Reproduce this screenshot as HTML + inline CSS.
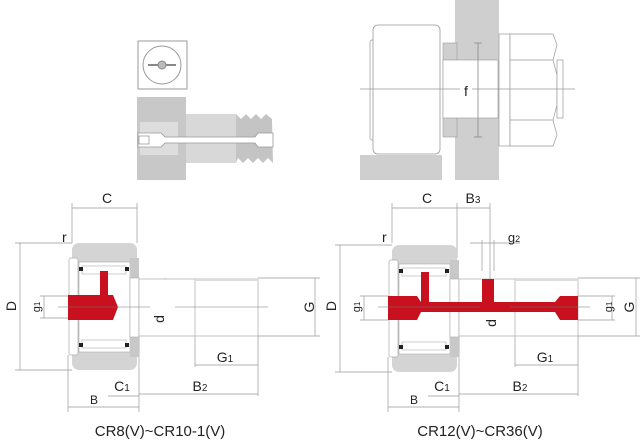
<!DOCTYPE html>
<html><head><style>body{margin:0;background:#fff}svg{display:block}text{font-family:"Liberation Sans",sans-serif;fill:#222}</style></head>
<body>
<svg width="640" height="440" viewBox="0 0 640 440">
<!-- Top-left detail -->
<rect x="138" y="41" width="49" height="48" fill="#fff" stroke="#999"/>
<circle cx="162" cy="65" r="19" fill="#fff" stroke="#999"/>
<line x1="148" y1="65" x2="176" y2="65" stroke="#888" stroke-width="2"/>
<circle cx="162" cy="65" r="4" fill="#bbb" stroke="#888"/>
<rect x="137" y="97" width="49" height="83" fill="#c8c8c8"/>
<rect x="140" y="122" width="38" height="33" fill="#ddd"/>
<rect x="186" y="114" width="50" height="49" fill="#d8d8d8"/>
<path d="M236 114 L241 119 L246 114 L251 119 L256 114 L261 119 L266 114 L272 119 L273 163 L268 158 L263 163 L258 158 L253 163 L248 158 L243 163 L238 158 L236 163 Z" fill="#c4c4c4"/>
<path d="M138 133 H161 L165 137 H255 L258 133 H273 V147 H258 L255 143 H165 L161 147 H138 Z" fill="#fff" stroke="#999" stroke-width="0.8"/>
<rect x="139" y="136" width="10" height="8" fill="none" stroke="#999" stroke-width="0.8"/>
<!-- Top-right assembly -->
<rect x="455" y="0" width="44" height="180" fill="#cfcfcf"/>
<rect x="443" y="43" width="14" height="94" fill="#cfcfcf" stroke="#999" stroke-width="0.6"/>
<rect x="443" y="60" width="55" height="58" fill="#fff" stroke="#999" stroke-width="0.6"/>
<rect x="360" y="155" width="82" height="25" fill="#cfcfcf"/>
<rect x="370" y="40" width="6" height="100" rx="2" fill="#fff" stroke="#999" stroke-width="0.7"/>
<rect x="373" y="25" width="67" height="129" rx="5" fill="#fff" stroke="#999" stroke-width="0.8"/>
<rect x="499" y="34" width="11" height="112" fill="#fff" stroke="#999" stroke-width="0.7"/>
<path d="M510 34 H553 L557 45 L553 60 L557 75 V105 L553 120 L557 135 L553 146 H510 Z" fill="#fff" stroke="#999" stroke-width="0.7"/>
<line x1="510" y1="60" x2="553" y2="60" stroke="#999" stroke-width="0.7"/>
<line x1="510" y1="120" x2="553" y2="120" stroke="#999" stroke-width="0.7"/>
<rect x="557" y="60" width="6" height="58" fill="#fff" stroke="#999" stroke-width="0.7"/>
<line x1="360" y1="89" x2="575" y2="89" stroke="#999" stroke-width="0.7"/>
<line x1="478" y1="43" x2="478" y2="137" stroke="#888" stroke-width="0.8"/>
<line x1="474" y1="43" x2="482" y2="43" stroke="#888" stroke-width="0.8"/>
<line x1="474" y1="137" x2="482" y2="137" stroke="#888" stroke-width="0.8"/>
<rect x="460" y="82" width="12" height="14" fill="#fff"/>
<text x="466" y="96" font-size="14" text-anchor="middle">f</text>

<!-- Bottom-left -->
<g stroke="#999" stroke-width="0.7" fill="none">
<line x1="72" y1="203" x2="72" y2="243"/><line x1="137" y1="203" x2="137" y2="243"/>
<line x1="72" y1="208" x2="137" y2="208"/>
<line x1="15" y1="243" x2="72" y2="243"/><line x1="15" y1="370" x2="72" y2="370"/>
<line x1="20" y1="243" x2="20" y2="370"/>
<line x1="40" y1="296" x2="68" y2="296"/><line x1="40" y1="318" x2="68" y2="318"/>
<line x1="44" y1="296" x2="44" y2="318"/>
<line x1="139" y1="336" x2="139" y2="412"/><line x1="68" y1="355" x2="68" y2="412"/>
<line x1="68" y1="407" x2="139" y2="407"/>
<line x1="139" y1="394" x2="258" y2="394"/><line x1="108" y1="396" x2="139" y2="396"/>
<line x1="258" y1="336" x2="258" y2="396"/><line x1="195" y1="336" x2="195" y2="367"/>
<line x1="195" y1="365" x2="258" y2="365"/>
<line x1="258" y1="278" x2="320" y2="278"/><line x1="258" y1="336" x2="320" y2="336"/>
<line x1="315" y1="278" x2="315" y2="336"/>
<line x1="165" y1="278" x2="165" y2="336"/>
</g>
<rect x="72" y="243" width="65" height="127" rx="7" fill="#d4d4d4"/>
<rect x="79" y="262" width="51" height="90" fill="#fff" stroke="#aaa" stroke-width="0.6"/>
<rect x="69" y="258" width="9" height="97" rx="2" fill="#fff" stroke="#aaa" stroke-width="0.7"/>
<rect x="130" y="258" width="9" height="20" fill="#c8c8c8"/><rect x="130" y="337" width="9" height="20" fill="#c8c8c8"/>
<rect x="130" y="278" width="9" height="59" fill="#fff" stroke="#aaa" stroke-width="0.6"/>
<rect x="82" y="266" width="44" height="8" fill="#fff" stroke="#aaa" stroke-width="0.6"/>
<rect x="82" y="340" width="44" height="8" fill="#fff" stroke="#aaa" stroke-width="0.6"/>
<rect x="79" y="267" width="4" height="4" fill="#222"/><rect x="125" y="267" width="4" height="4" fill="#222"/>
<rect x="79" y="343" width="4" height="4" fill="#222"/><rect x="125" y="343" width="4" height="4" fill="#222"/>
<rect x="139" y="279" width="119" height="57" fill="#fff" stroke="#aaa" stroke-width="0.7"/>
<line x1="195" y1="279" x2="195" y2="336" stroke="#aaa" stroke-width="0.7"/>
<rect x="195" y="279" width="63" height="2" fill="#ddd"/>
<path d="M68 295 H100 V271 H108 V295 H113 L118 307 L113 320 H68 Z" fill="#c8101e"/>
<line x1="58" y1="307" x2="150" y2="307" stroke="#777" stroke-width="0.6"/>
<line x1="175" y1="307" x2="268" y2="307" stroke="#777" stroke-width="0.6"/>
<!-- Bottom-right -->
<g stroke="#999" stroke-width="0.7" fill="none">
<line x1="392" y1="203" x2="392" y2="243"/><line x1="457" y1="203" x2="457" y2="258"/>
<line x1="392" y1="208" x2="490" y2="208"/><line x1="490" y1="203" x2="490" y2="279"/>
<line x1="335" y1="245" x2="392" y2="245"/><line x1="335" y1="372" x2="392" y2="372"/>
<line x1="340" y1="245" x2="340" y2="372"/>
<line x1="360" y1="296" x2="388" y2="296"/><line x1="360" y1="320" x2="388" y2="320"/>
<line x1="364" y1="296" x2="364" y2="320"/>
<line x1="459" y1="336" x2="459" y2="412"/><line x1="388" y1="357" x2="388" y2="412"/>
<line x1="388" y1="407" x2="459" y2="407"/>
<line x1="459" y1="394" x2="578" y2="394"/><line x1="428" y1="396" x2="459" y2="396"/>
<line x1="578" y1="336" x2="578" y2="396"/><line x1="515" y1="336" x2="515" y2="367"/>
<line x1="515" y1="365" x2="578" y2="365"/>
<line x1="578" y1="278" x2="640" y2="278"/><line x1="578" y1="336" x2="640" y2="336"/>
<line x1="636" y1="278" x2="636" y2="336"/>
<line x1="502" y1="279" x2="502" y2="336"/>
<line x1="470" y1="243" x2="520" y2="243"/>
<line x1="482" y1="240" x2="482" y2="271"/><line x1="494" y1="240" x2="494" y2="271"/>
<line x1="578" y1="296" x2="615" y2="296"/><line x1="578" y1="320" x2="615" y2="320"/>
<line x1="612" y1="296" x2="612" y2="320"/>
</g>
<rect x="392" y="245" width="65" height="127" rx="7" fill="#d4d4d4"/>
<rect x="399" y="264" width="51" height="90" fill="#fff" stroke="#aaa" stroke-width="0.6"/>
<rect x="389" y="260" width="9" height="97" rx="2" fill="#fff" stroke="#aaa" stroke-width="0.7"/>
<rect x="450" y="260" width="9" height="19" fill="#c8c8c8"/><rect x="450" y="337" width="9" height="20" fill="#c8c8c8"/>
<rect x="450" y="279" width="9" height="58" fill="#fff" stroke="#aaa" stroke-width="0.6"/>
<rect x="402" y="268" width="44" height="8" fill="#fff" stroke="#aaa" stroke-width="0.6"/>
<rect x="402" y="342" width="44" height="8" fill="#fff" stroke="#aaa" stroke-width="0.6"/>
<rect x="399" y="269" width="4" height="4" fill="#222"/><rect x="445" y="269" width="4" height="4" fill="#222"/>
<rect x="399" y="345" width="4" height="4" fill="#222"/><rect x="445" y="345" width="4" height="4" fill="#222"/>
<rect x="459" y="279" width="119" height="57" fill="#fff" stroke="#aaa" stroke-width="0.7"/>
<line x1="515" y1="279" x2="515" y2="336" stroke="#aaa" stroke-width="0.7"/>
<rect x="515" y="279" width="63" height="2" fill="#ddd"/>
<path d="M388 296 H417 L421 302 V272 H429 V302 H482 V279 H494 V302 H555 L560 296 H578 V320 H560 L555 312 H421 L417 320 H388 Z" fill="#c8101e"/>
<line x1="378" y1="307" x2="480" y2="307" stroke="#777" stroke-width="0.6"/>
<line x1="510" y1="307" x2="590" y2="307" stroke="#777" stroke-width="0.6"/>

<!-- labels -->
<g font-size="14">
<text x="107" y="203" text-anchor="middle">C</text>
<text x="62" y="242">r</text>
<text x="16" y="306" text-anchor="middle" transform="rotate(-90 16 306)">D</text>
<text x="36" y="311" text-anchor="middle" font-size="11" transform="rotate(-90 36 307)">g<tspan font-size="8">1</tspan></text>
<text x="160" y="323" text-anchor="middle" transform="rotate(-90 160 319)">d</text>
<text x="310" y="311" text-anchor="middle" transform="rotate(-90 310 307)">G</text>
<text x="225" y="362" text-anchor="middle">G<tspan font-size="10">1</tspan></text>
<text x="122" y="391" text-anchor="middle">C<tspan font-size="10">1</tspan></text>
<text x="200" y="391" text-anchor="middle">B<tspan font-size="10">2</tspan></text>
<text x="94" y="404" text-anchor="middle" font-size="12">B</text>
<text x="160" y="436" text-anchor="middle" font-size="15">CR8(V)~CR10-1(V)</text>

<text x="427" y="203" text-anchor="middle">C</text>
<text x="473" y="203" text-anchor="middle">B<tspan font-size="10">3</tspan></text>
<text x="382" y="242">r</text>
<text x="514" y="242" text-anchor="middle" font-size="13">g<tspan font-size="9">2</tspan></text>
<text x="336" y="306" text-anchor="middle" transform="rotate(-90 336 306)">D</text>
<text x="356" y="311" text-anchor="middle" font-size="11" transform="rotate(-90 356 307)">g<tspan font-size="8">1</tspan></text>
<text x="608" y="311" text-anchor="middle" font-size="11" transform="rotate(-90 608 307)">g<tspan font-size="8">1</tspan></text>
<text x="492" y="327" text-anchor="middle" transform="rotate(-90 492 323)">d</text>
<text x="630" y="311" text-anchor="middle" transform="rotate(-90 630 307)">G</text>
<text x="545" y="362" text-anchor="middle">G<tspan font-size="10">1</tspan></text>
<text x="442" y="391" text-anchor="middle">C<tspan font-size="10">1</tspan></text>
<text x="520" y="391" text-anchor="middle">B<tspan font-size="10">2</tspan></text>
<text x="414" y="404" text-anchor="middle" font-size="12">B</text>
<text x="480" y="436" text-anchor="middle" font-size="15">CR12(V)~CR36(V)</text>
</g>
</svg>
</body></html>
